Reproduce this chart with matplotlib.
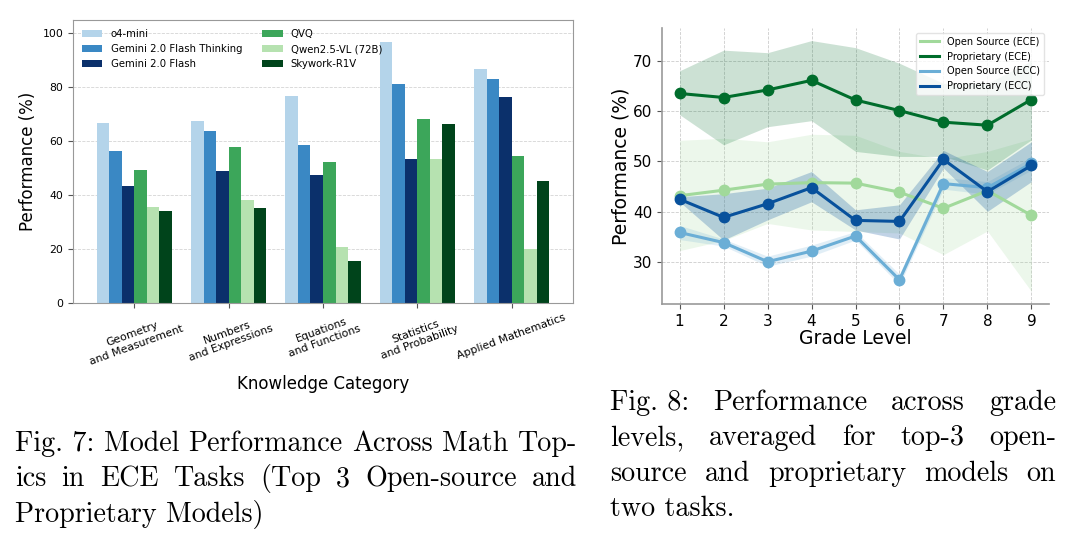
import matplotlib
matplotlib.use("Agg")
import matplotlib.pyplot as plt
import numpy as np

W, H = 1067, 545

# ---- Fig. 7 data: performance (%) per knowledge category ----
categories = [
    "Geometry\nand Measurement",
    "Numbers\nand Expressions",
    "Equations\nand Functions",
    "Statistics\nand Probability",
    "Applied Mathematics",
]
models = ["o4-mini", "Gemini 2.0 Flash Thinking", "Gemini 2.0 Flash",
          "QVQ", "Qwen2.5-VL (72B)", "Skywork-R1V"]
o4_mini = [66.8, 67.7, 76.8, 97.0, 87.0]
gemini_thinking = [56.4, 63.7, 58.5, 81.1, 83.1]
gemini_flash = [43.5, 48.9, 47.4, 53.5, 76.3]
qvq = [49.3, 57.8, 52.3, 68.3, 54.4]
qwen_72b = [35.7, 38.3, 20.9, 53.5, 20.0]
skywork = [34.2, 35.1, 15.7, 66.4, 45.1]
model_colors = ["#b4d4ea", "#3a88c4", "#0b306b", "#3ca65a", "#b6e2b0", "#00441b"]

# ---- Fig. 8 data: performance (%) by grade level ----
grades = [1, 2, 3, 4, 5, 6, 7, 8, 9]
open_ece = [43.2, 44.3, 45.5, 45.8, 45.7, 43.9, 40.7, 44.2, 39.3]
open_ece_lo = [32.3, 34.3, 37.7, 36.4, 36.1, 35.8, 31.5, 36.2, 24.2]
open_ece_hi = [54.2, 54.6, 53.9, 55.4, 55.2, 52.0, 50.5, 52.0, 54.5]
prop_ece = [63.5, 62.7, 64.2, 66.1, 62.2, 60.1, 57.8, 57.2, 62.3]
prop_ece_lo = [59.3, 53.3, 56.9, 58.1, 52.0, 51.0, 51.0, 48.3, 54.3]
prop_ece_hi = [68.0, 72.1, 71.6, 74.0, 72.6, 69.5, 65.5, 65.5, 70.0]
open_ecc = [35.9, 33.9, 30.1, 32.2, 35.2, 26.5, 45.6, 44.8, 49.6]
open_ecc_lo = [34.5, 33.2, 29.2, 31.2, 34.4, 25.5, 44.5, 43.5, 48.3]
open_ecc_hi = [37.3, 34.6, 31.2, 33.4, 36.1, 27.6, 46.8, 46.0, 50.8]
prop_ecc = [42.5, 38.9, 41.6, 44.8, 38.3, 38.1, 50.4, 44.0, 49.2]
prop_ecc_lo = [42.0, 34.4, 38.4, 42.0, 36.4, 34.6, 48.7, 40.1, 46.0]
prop_ecc_hi = [43.0, 43.6, 44.7, 48.0, 40.4, 41.4, 52.2, 48.0, 53.9]

caption7 = ["Fig. 7: Model Performance Across Math Top-",
            "ics in ECE Tasks (Top 3 Open-source and",
            "Proprietary Models)"]
caption8 = ["Fig. 8: Performance across grade",
            "levels, averaged for top-3 open-",
            "source and proprietary models on",
            "two tasks."]

fig = plt.figure(figsize=(W / 100, H / 100), dpi=100, facecolor="w")


def px_rect(x0, y0, x1, y1):
    return [x0 / W, 1 - y1 / H, (x1 - x0) / W, (y1 - y0) / H]


# ---------------- left: grouped bars ----------------
ax1 = fig.add_axes(px_rect(73, 20, 573, 303))
series = [o4_mini, gemini_thinking, gemini_flash, qvq, qwen_72b, skywork]
x = np.arange(len(categories))
bw = 0.8 / len(series)
for i, (vals, name, col) in enumerate(zip(series, models, model_colors)):
    ax1.bar(x + (i - 2.5) * bw, vals, bw, color=col, label=name)
ax1.set_xlim(-0.65, 4.65)
ax1.set_ylim(0, 105)
ax1.set_yticks([0, 20, 40, 60, 80, 100])
ax1.set_xticks(x)
ax1.set_xticklabels(categories, rotation=20, ha="center", fontsize=7.8)
ax1.tick_params(axis="y", labelsize=7.8)
ax1.tick_params(colors="#555555", labelcolor="black")
ax1.grid(axis="y", linestyle="--", color="#d4d4d4", linewidth=0.6)
ax1.set_axisbelow(True)
for s in ax1.spines.values():
    s.set_color("#999999")
ax1.set_ylabel("Performance (%)", fontsize=12)
ax1.set_xlabel("Knowledge Category", fontsize=12, labelpad=6)
ax1.legend(ncol=2, loc="upper left", frameon=False, fontsize=7.3,
           handlelength=2.0, columnspacing=2.0)

# ---------------- right: lines with bands ----------------
ax2 = fig.add_axes(px_rect(662, 28, 1049, 304))
lines = [
    ("Open Source (ECE)", open_ece, open_ece_lo, open_ece_hi, "#a1d99b", 0.2),
    ("Proprietary (ECE)", prop_ece, prop_ece_lo, prop_ece_hi, "#006d2c", 0.2),
    ("Open Source (ECC)", open_ecc, open_ecc_lo, open_ecc_hi, "#6baed6", 0.2),
    ("Proprietary (ECC)", prop_ecc, prop_ecc_lo, prop_ecc_hi, "#08519c", 0.25),
]
for label, mid, lo, hi, col, a in lines:
    ax2.fill_between(grades, lo, hi, color=col, alpha=a, linewidth=0)
for label, mid, lo, hi, col, a in lines:
    ax2.plot(grades, mid, "-", color=col, lw=2.2, label=label)
    ax2.plot(grades, mid, "o", color=col, ms=7.5)
ax2.set_xlim(0.6, 9.4)
ax2.set_ylim(21.7, 76.5)
ax2.set_xticks(grades)
ax2.set_yticks([30, 40, 50, 60, 70])
ax2.tick_params(labelsize=11, colors="#555555", labelcolor="black")
ax2.grid(True, linestyle="--", color="#cccccc", linewidth=0.6)
ax2.set_axisbelow(True)
for side in ("top", "right"):
    ax2.spines[side].set_visible(False)
for side in ("left", "bottom"):
    ax2.spines[side].set_color("#999999")
    ax2.spines[side].set_linewidth(1.2)
ax2.set_ylabel("Performance (%)", fontsize=13.5, labelpad=2)
ax2.set_xlabel("Grade Level", fontsize=13.5, labelpad=0)
ax2.legend(loc="upper right", fontsize=7, frameon=True, edgecolor="#dddddd",
           fancybox=True)

# ---------------- captions (justified, serif) ----------------
renderer = fig.canvas.get_renderer()


def natural_width(line, size):
    t = fig.text(0, 0, line, fontsize=size, family="cmr10")
    w = t.get_window_extent(renderer).width
    t.remove()
    return w


def put_line(line, x0, x1, ybase, size, justify):
    if not justify:
        fig.text(x0 / W, 1 - ybase / H, line, fontsize=size, family="cmr10",
                 va="baseline", ha="left")
        return
    words = line.replace("Fig. ", "Fig.\u00a0").split(" ")
    arts, widths = [], []
    for wd in words:
        t = fig.text(0, 1 - ybase / H, wd.replace("\u00a0", " "), fontsize=size,
                     family="cmr10", va="baseline", ha="left")
        arts.append(t)
        widths.append(t.get_window_extent(renderer).width)
    gap = (x1 - x0 - sum(widths)) / max(len(words) - 1, 1)
    pos = x0
    for t, w in zip(arts, widths):
        t.set_x(pos / W)
        pos += w + gap


blocks = [(caption7, 15, 577, 451), (caption8, 610, 1056, 410)]
ratio = min((x1 - x0) / max(natural_width(l, 10) for l in cap[:-1])
            for cap, x0, x1, _ in blocks)
csize = 10 * ratio * 1.0
for cap, x0, x1, y0 in blocks:
    for k, line in enumerate(cap):
        put_line(line, x0, x1, y0 + 35.3 * k, csize, k < len(cap) - 1)

fig.savefig("out.png", dpi=100, facecolor="w")
